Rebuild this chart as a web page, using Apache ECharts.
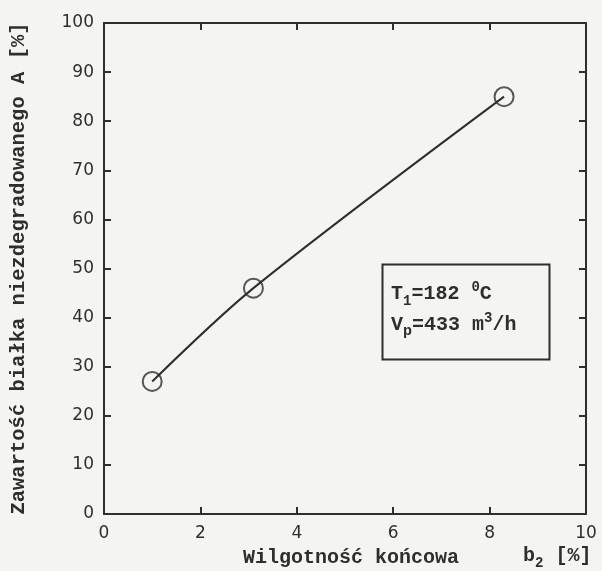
<!DOCTYPE html>
<html>
<head>
<meta charset="utf-8">
<script src="https://cdn.jsdelivr.net/npm/echarts@6/dist/echarts.min.js"></script>
<style>
html,body{margin:0;padding:0;background:#f4f4f2;}
#chart{width:602px;height:571px;}
</style>
</head>
<body>
<div id="chart"></div>
<script>
// Data
const xValues = [1.0, 3.1, 8.3];
const yValues = [27, 46, 85];
const xTickLabels = ['0', '2', '4', '6', '8', '10'];
const yTickLabels = ['0', '10', '20', '30', '40', '50', '60', '70', '80', '90', '100'];
const yAxisTitle = 'Zawartość białka niezdegradowanego A [%]';
const xAxisTitle = 'Wilgotność końcowa';

const points = xValues.map((x, i) => [x, yValues[i]]);
const ink = '#2e2e2e';
const tickFont = 'DejaVu Sans';
const titleFont = 'Liberation Mono';

const chart = echarts.init(document.getElementById('chart'), null, {renderer: 'canvas'});

function axisCommon(showLabels, labels, isX) {
  return {
    axisLine: {show: true, onZero: false, lineStyle: {color: ink, width: 2}},
    axisTick: {show: true, inside: true, length: 7, lineStyle: {color: ink, width: 2}},
    splitLine: {show: false},
    axisLabel: {
      show: showLabels,
      margin: isX ? 11 : 10,
      color: ink,
      fontFamily: tickFont,
      fontSize: 17,
      formatter: function (v) {
        const idx = labels.indexOf(String(v));
        return idx >= 0 ? labels[idx] : '';
      }
    }
  };
}

const option = {
  backgroundColor: '#f4f4f2',
  animation: false,
  grid: {left: 97, right: 16, top: 23, bottom: 57},
  xAxis: [
    Object.assign({type: 'value', min: 0, max: 10, interval: 2, position: 'bottom'}, axisCommon(true, xTickLabels, true)),
    Object.assign({type: 'value', min: 0, max: 10, interval: 2, position: 'top'}, axisCommon(false, xTickLabels, true))
  ],
  yAxis: [
    Object.assign({type: 'value', min: 0, max: 100, interval: 10, position: 'left',
      name: yAxisTitle, nameLocation: 'middle', nameGap: 75, nameRotate: 90,
      nameTextStyle: {fontFamily: titleFont, fontSize: 20.5, fontWeight: 'bold', color: ink}
    }, axisCommon(true, yTickLabels, false)),
    Object.assign({type: 'value', min: 0, max: 100, interval: 10, position: 'right'}, axisCommon(false, yTickLabels, false))
  ],
  series: [
    {
      type: 'line',
      data: points,
      smooth: 0.3,
      symbol: 'none',
      lineStyle: {color: ink, width: 2}
    },
    {
      type: 'scatter',
      data: points,
      symbol: 'circle',
      symbolSize: 19,
      itemStyle: {color: 'rgba(0,0,0,0)', borderColor: ink, borderWidth: 2}
    }
  ],
  graphic: [
    {
      type: 'text', left: 243, top: 548,
      style: {text: xAxisTitle, font: 'bold 20px "Liberation Mono"', fill: ink}
    },
    {
      type: 'text', left: 523, top: 546,
      style: {
        text: '{n|b}{s|2}{n| [%]}',
        fill: ink,
        rich: {
          n: {fontFamily: titleFont, fontSize: 20, fontWeight: 'bold', lineHeight: 28, verticalAlign: 'middle', fill: ink},
          s: {fontFamily: titleFont, fontSize: 14, fontWeight: 'bold', lineHeight: 28, verticalAlign: 'bottom', fill: ink, padding: [10, 0, 0, 0]}
        }
      }
    },
    {
      type: 'rect', left: 380, top: 262,
      shape: {width: 167, height: 95},
      style: {fill: 'none', stroke: ink, lineWidth: 2}
    },
    {
      type: 'text', left: 391, top: 280,
      style: {
        text: '{n|T}{s|1}{n|=182 }{p|0}{n|C}',
        fill: ink,
        rich: {
          n: {fontFamily: titleFont, fontSize: 20, fontWeight: 'bold', lineHeight: 28, verticalAlign: 'middle', fill: ink},
          s: {fontFamily: titleFont, fontSize: 14, fontWeight: 'bold', lineHeight: 28, verticalAlign: 'bottom', padding: [10, 0, 0, 0], fill: ink},
          p: {fontFamily: titleFont, fontSize: 14, fontWeight: 'bold', lineHeight: 28, verticalAlign: 'top', padding: [0, 0, 10, 0], fill: ink}
        }
      }
    },
    {
      type: 'text', left: 391, top: 311,
      style: {
        text: '{n|V}{s|p}{n|=433 m}{p|3}{n|/h}',
        fill: ink,
        rich: {
          n: {fontFamily: titleFont, fontSize: 20, fontWeight: 'bold', lineHeight: 28, verticalAlign: 'middle', fill: ink},
          s: {fontFamily: titleFont, fontSize: 15, fontWeight: 'bold', lineHeight: 28, verticalAlign: 'bottom', padding: [10, 0, 0, 0], fill: ink},
          p: {fontFamily: titleFont, fontSize: 14, fontWeight: 'bold', lineHeight: 28, verticalAlign: 'top', padding: [0, 0, 10, 0], fill: ink}
        }
      }
    }
  ]
};
chart.setOption(option);
</script>
</body>
</html>
